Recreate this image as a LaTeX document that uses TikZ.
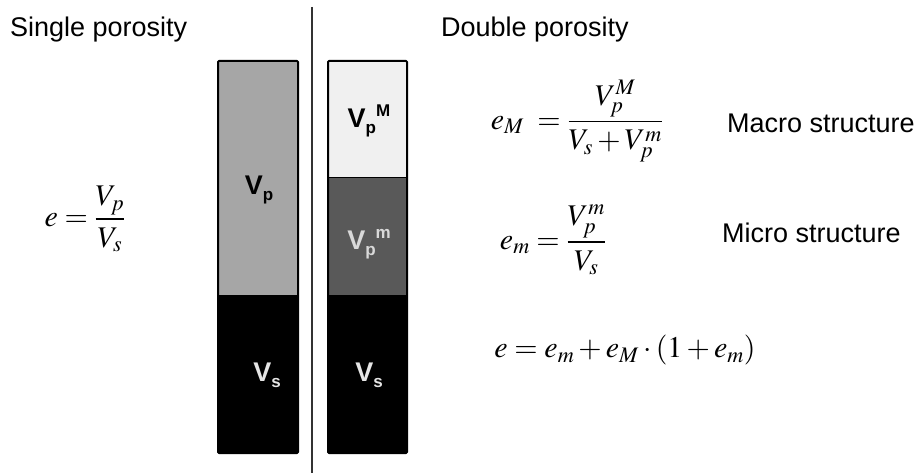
\documentclass[tikz,border=0pt]{standalone}
\usepackage{mathptmx}
\usepackage[no-math]{fontspec}
\setsansfont{Liberation Sans}
\newcommand{\vsym}[2]{V\raisebox{-0.22em}{\fontsize{17}{17}\selectfont #1}\raisebox{0.42em}{\fontsize{17}{17}\selectfont #2}}
\begin{document}
\begin{tikzpicture}[x=1pt, y=-1pt,
  title/.style={font=\sffamily\fontsize{27}{32}\selectfont, anchor=west, inner sep=0pt},
  phaselabel/.style={font=\sffamily\bfseries\fontsize{27}{32}\selectfont, inner sep=0pt},
  formula/.style={font=\fontsize{30}{36}\selectfont, inner sep=0pt}]
% Soil phase diagrams, single vs. double porosity
\providecommand{\poreColor}{black!35}
\providecommand{\macroColor}{black!6}
\providecommand{\microColor}{black!65}
\providecommand{\solidColor}{black}
\providecommand{\boxLineWidth}{2pt}
\useasboundingbox (0,0) rectangle (918,473);
% Titles
\node[title] (single) at (10,30) {Single porosity};
\node[title] (double) at (441,30) {Double porosity};
% Divider
\coordinate (divtop) at (312,7);
\coordinate (divbot) at (312,473);
\draw[line width=1.6pt, black!80] (divtop) -- (divbot);
% Single porosity column
\begin{scope}[line join=round]
  \fill[\poreColor] (218,61) rectangle (298,295);
  \fill[\solidColor] (218,295) rectangle (298,453);
  \draw[line width=\boxLineWidth, rounded corners=1pt] (218,61) rectangle (298,453);
\end{scope}
% Double porosity column
\begin{scope}[line join=round]
  \fill[\macroColor] (328,61) rectangle (407,178);
  \fill[\microColor] (328,178) rectangle (407,295);
  \fill[\solidColor] (328,295) rectangle (407,453);
  \draw[line width=1pt] (328,178) -- (407,178);
  \draw[line width=\boxLineWidth, rounded corners=1pt] (328,61) rectangle (407,453);
\end{scope}
% Phase labels
\node[phaselabel] (vp) at (259,190) {\vsym{p}{}};
\node[phaselabel, black!10] (vs1) at (267,375) {\vsym{s}{}};
\node[phaselabel] (vpM) at (369,121) {\vsym{p}{M}};
\node[phaselabel, black!15] (vpm) at (369,244) {\vsym{p}{m}};
\node[phaselabel, black!10] (vs2) at (369,375) {\vsym{s}{}};
% Formulas
\node[formula] (esingle) at (85,219) {$e=\displaystyle\frac{V_p}{V_s}$};
\node[formula] (emacro) at (577,121) {$e_M\;=\displaystyle\frac{V_p^M}{V_s+V_p^m}$};
\node[formula] (emicro) at (553,240) {$e_m=\displaystyle\frac{V_p^m}{V_s}$};
\node[formula] (etotal) at (625,350) {$e=e_m+e_M\cdot\left(1+e_m\right)$};
% Structure labels
\node[title] (macro) at (727,123) {Macro structure};
\node[title] (micro) at (722,233) {Micro structure};
\end{tikzpicture}
\end{document}
